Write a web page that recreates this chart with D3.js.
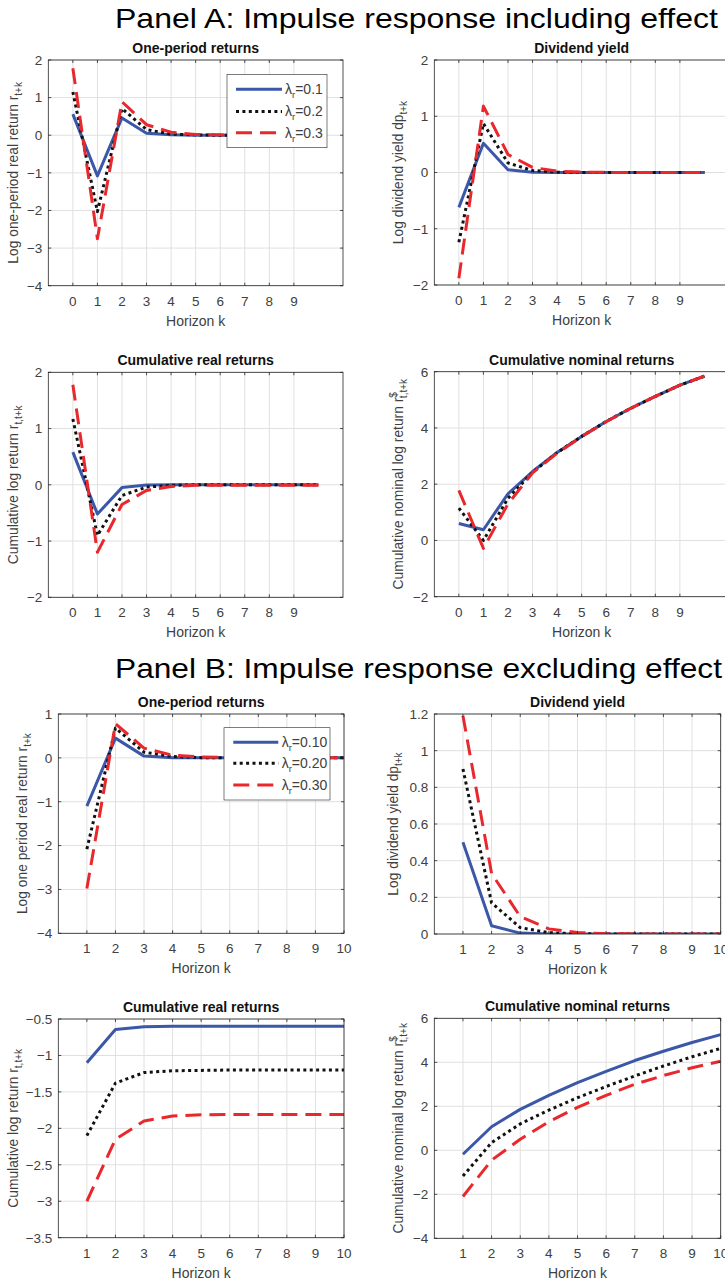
<!DOCTYPE html>
<html>
<head>
<meta charset="utf-8">
<script src="https://cdn.jsdelivr.net/npm/d3@7"></script>
<style>
  body { margin: 0; background: #fff; }
  svg { display: block; font-family: "Liberation Sans", Arial, Helvetica, sans-serif; }
</style>
</head>
<body>
<div id="chart"></div>
<script>
// horizons and tick labels
var horizonA = [0, 1, 2, 3, 4, 5, 6, 7, 8, 9, 10];
var horizonB = [1, 2, 3, 4, 5, 6, 7, 8, 9, 10];
var xTicksA = [0, 1, 2, 3, 4, 5, 6, 7, 8, 9];
var xTicksB = [1, 2, 3, 4, 5, 6, 7, 8, 9, 10];
var lambdasA = ["0.1", "0.2", "0.3"];
var lambdasB = ["0.10", "0.20", "0.30"];

// Panel A: including effect
var oneA_1 = [0.56, -1.08, 0.46, 0.05, 0.01, 0, 0, 0, 0, 0, 0];
var oneA_2 = [1.15, -2.03, 0.71, 0.15, 0.03, 0.01, 0, 0, 0, 0, 0];
var oneA_3 = [1.78, -2.75, 0.89, 0.28, 0.08, 0.02, 0.01, 0, 0, 0, 0];

var dpA_1 = [-0.62, 0.52, 0.05, 0.005, 0, 0, 0, 0, 0, 0, 0];
var dpA_2 = [-1.24, 0.87, 0.17, 0.035, 0.007, 0.001, 0, 0, 0, 0, 0];
var dpA_3 = [-1.88, 1.18, 0.32, 0.09, 0.025, 0.007, 0.002, 0, 0, 0, 0];

var cumA_1 = [0.58, -0.52, -0.05, -0.005, 0, 0, 0, 0, 0, 0, 0];
var cumA_2 = [1.17, -0.9, -0.19, -0.04, -0.01, 0, 0, 0, 0, 0, 0];
var cumA_3 = [1.78, -1.2, -0.35, -0.1, -0.03, -0.01, -0.01, -0.01, -0.01, -0.01, -0.01];

var nomA_1 = [0.6, 0.38, 1.66, 2.45, 3.13, 3.7, 4.23, 4.7, 5.12, 5.52, 5.84];
var nomA_2 = [1.15, 0.0, 1.5, 2.42, 3.12, 3.7, 4.23, 4.7, 5.12, 5.52, 5.84];
var nomA_3 = [1.78, -0.28, 1.3, 2.4, 3.1, 3.69, 4.22, 4.7, 5.12, 5.52, 5.84];

// Panel B: excluding effect
var oneB_1 = [-1.1, 0.45, 0.04, 0.005, 0, 0, 0, 0, 0, 0];
var oneB_2 = [-2.08, 0.68, 0.13, 0.03, 0.005, 0, 0, 0, 0, 0];
var oneB_3 = [-2.98, 0.78, 0.22, 0.06, 0.02, 0.005, 0, 0, 0, 0];

var dpB_1 = [0.5, 0.045, 0.005, 0.0005, 0, 0, 0, 0, 0, 0];
var dpB_2 = [0.9, 0.17, 0.035, 0.007, 0.0015, 0, 0, 0, 0, 0];
var dpB_3 = [1.19, 0.33, 0.095, 0.028, 0.008, 0.002, 0.0007, 0, 0, 0];

var cumB_1 = [-1.1, -0.645, -0.605, -0.6, -0.6, -0.6, -0.6, -0.6, -0.6, -0.6];
var cumB_2 = [-2.1, -1.38, -1.235, -1.21, -1.205, -1.2, -1.2, -1.2, -1.2, -1.2];
var cumB_3 = [-3.0, -2.15, -1.9, -1.83, -1.815, -1.81, -1.81, -1.81, -1.81, -1.81];

var nomB_1 = [-0.18, 1.07, 1.86, 2.5, 3.08, 3.59, 4.08, 4.5, 4.9, 5.26];
var nomB_2 = [-1.17, 0.35, 1.2, 1.83, 2.39, 2.9, 3.38, 3.83, 4.25, 4.63];
var nomB_3 = [-2.1, -0.45, 0.5, 1.3, 1.95, 2.5, 3.0, 3.4, 3.75, 4.05];

var styles = [
    { color: "#3b57a8", dash: null },
    { color: "#111111", dash: "3,3.4" },
    { color: "#e8282d", dash: "16,8" }
];
var axisColor = "#262626";
var labelColor = "#404040";
var gridColor = "#e0e0e0";

var W = 725, H = 1281;
var svg = d3.select("#chart").append("svg")
    .attr("width", W)
    .attr("height", H);
svg.append("rect").attr("width", W).attr("height", H).attr("fill", "#fff");

var clipId = 0;

function drawPanel(o) {
    var x = d3.scaleLinear().domain(o.xDomain).range([o.left, o.right]);
    var y = d3.scaleLinear().domain(o.yDomain).range([o.bottom, o.top]);
    var g = svg.append("g");
    var cx = (o.left + o.right) / 2;
    var cy = (o.top + o.bottom) / 2;

    // grid
    g.selectAll(".gx").data(o.xTicks).enter().append("line")
        .attr("x1", d => x(d)).attr("x2", d => x(d))
        .attr("y1", o.top).attr("y2", o.bottom)
        .attr("stroke", gridColor).attr("stroke-width", 1);
    g.selectAll(".gy").data(o.yTicks).enter().append("line")
        .attr("x1", o.left).attr("x2", o.right)
        .attr("y1", d => y(d)).attr("y2", d => y(d))
        .attr("stroke", gridColor).attr("stroke-width", 1);

    // lines
    clipId++;
    svg.append("clipPath").attr("id", "clip" + clipId)
        .append("rect")
        .attr("x", o.left).attr("y", o.top)
        .attr("width", o.right - o.left).attr("height", o.bottom - o.top);
    var line = d3.line().x(d => x(d[0])).y(d => y(d[1]));
    var lg = g.append("g").attr("clip-path", "url(#clip" + clipId + ")");
    o.series.forEach(function (vals, i) {
        var pts = o.horizon.map((h, j) => [h, vals[j]]);
        lg.append("path")
            .attr("d", line(pts))
            .attr("fill", "none")
            .attr("stroke", styles[i].color)
            .attr("stroke-width", 3)
            .attr("stroke-linejoin", "round")
            .attr("stroke-dasharray", styles[i].dash);
    });

    // box + ticks
    g.append("rect")
        .attr("x", o.left).attr("y", o.top)
        .attr("width", o.right - o.left).attr("height", o.bottom - o.top)
        .attr("fill", "none").attr("stroke", axisColor).attr("stroke-width", 0.8);
    var tl = 3;
    o.xTicks.forEach(function (t) {
        g.append("line").attr("x1", x(t)).attr("x2", x(t)).attr("y1", o.bottom).attr("y2", o.bottom - tl)
            .attr("stroke", axisColor).attr("stroke-width", 0.8);
        g.append("line").attr("x1", x(t)).attr("x2", x(t)).attr("y1", o.top).attr("y2", o.top + tl)
            .attr("stroke", axisColor).attr("stroke-width", 0.8);
    });
    o.yTicks.forEach(function (t) {
        g.append("line").attr("x1", o.left).attr("x2", o.left + tl).attr("y1", y(t)).attr("y2", y(t))
            .attr("stroke", axisColor).attr("stroke-width", 0.8);
        g.append("line").attr("x1", o.right).attr("x2", o.right - tl).attr("y1", y(t)).attr("y2", y(t))
            .attr("stroke", axisColor).attr("stroke-width", 0.8);
    });

    // tick labels
    g.selectAll(".xt").data(o.xTicks).enter().append("text")
        .attr("x", d => x(d)).attr("y", o.bottom + 20)
        .attr("text-anchor", "middle")
        .attr("font-size", 13.5).attr("fill", labelColor)
        .text(d => d);
    g.selectAll(".yt").data(o.yTicks).enter().append("text")
        .attr("x", o.left - 6).attr("y", d => y(d))
        .attr("dy", "0.36em")
        .attr("text-anchor", "end")
        .attr("font-size", 13.5).attr("fill", labelColor)
        .text(d => d3.format("~g")(+d.toFixed(2)));

    // titles
    g.append("text")
        .attr("x", cx).attr("y", o.top - 7)
        .attr("text-anchor", "middle")
        .attr("font-size", 14).attr("font-weight", "bold").attr("fill", "#111")
        .text(o.title);
    g.append("text")
        .attr("x", cx).attr("y", o.bottom + 40)
        .attr("text-anchor", "middle")
        .attr("font-size", 14).attr("fill", labelColor)
        .text("Horizon k");

    var yl = g.append("text")
        .attr("transform", "translate(" + o.ylabX + "," + cy + ") rotate(-90)")
        .attr("text-anchor", "middle")
        .attr("font-size", 13.8).attr("fill", labelColor);
    yl.append("tspan").text(o.ylab);
    if (o.ysup) {
        yl.append("tspan").attr("font-size", 10).attr("dy", -6).text(o.ysup);
        yl.append("tspan").attr("font-size", 10).attr("dx", -6).attr("dy", 10).text(o.ysub);
    } else {
        yl.append("tspan").attr("font-size", 10).attr("dy", 4).text(o.ysub);
    }

    if (o.legend) drawLegend(o.legend);
}

function drawLegend(L) {
    var g = svg.append("g");
    g.append("rect")
        .attr("x", L.x).attr("y", L.y).attr("width", L.w).attr("height", L.h)
        .attr("fill", "#fff").attr("stroke", axisColor).attr("stroke-width", 0.6);
    L.labels.forEach(function (lab, i) {
        var yy = L.rows[i];
        g.append("line")
            .attr("x1", L.s0).attr("x2", L.s1).attr("y1", yy).attr("y2", yy)
            .attr("stroke", styles[i].color).attr("stroke-width", 3)
            .attr("stroke-dasharray", styles[i].dash);
        var t = g.append("text")
            .attr("x", L.tx).attr("y", yy).attr("dy", "0.35em")
            .attr("font-size", 14).attr("fill", labelColor);
        t.append("tspan").text("\u03bb");
        t.append("tspan").attr("font-size", 9.5).attr("dy", 4).text("r");
        t.append("tspan").attr("dy", -4).text("=" + lab);
    });
}

// panel headings
svg.append("text").attr("x", 115).attr("y", 28)
    .attr("font-size", 28).attr("fill", "#000")
    .attr("textLength", 603).attr("lengthAdjust", "spacingAndGlyphs")
    .text("Panel A: Impulse response including effect");
svg.append("text").attr("x", 115).attr("y", 678)
    .attr("font-size", 28).attr("fill", "#000")
    .attr("textLength", 607).attr("lengthAdjust", "spacingAndGlyphs")
    .text("Panel B: Impulse response excluding effect");

// Panel A
drawPanel({
    left: 48.3, right: 343, top: 60, bottom: 285.7,
    xDomain: [-1, 11], yDomain: [-4, 2], xTicks: xTicksA, yTicks: d3.range(-4, 2.01, 1),
    horizon: horizonA, series: [oneA_1, oneA_2, oneA_3],
    title: "One-period returns", ylab: "Log one-period real return r", ysub: "t+k", ylabX: 18,
    legend: { x: 227, y: 74.3, w: 100, h: 73.4, rows: [89.3, 111.5, 132.7], s0: 236, s1: 282, tx: 285, labels: lambdasA }
});
drawPanel({
    left: 434.3, right: 729, top: 60, bottom: 285,
    xDomain: [-1, 11], yDomain: [-2, 2], xTicks: xTicksA, yTicks: d3.range(-2, 2.01, 1),
    horizon: horizonA, series: [dpA_1, dpA_2, dpA_3],
    title: "Dividend yield", ylab: "Log dividend yield dp", ysub: "t+k", ylabX: 403
});
drawPanel({
    left: 48.3, right: 343, top: 372.3, bottom: 597.3,
    xDomain: [-1, 11], yDomain: [-2, 2], xTicks: xTicksA, yTicks: d3.range(-2, 2.01, 1),
    horizon: horizonA, series: [cumA_1, cumA_2, cumA_3],
    title: "Cumulative real returns", ylab: "Cumulative log return r", ysub: "t,t+k", ylabX: 18
});
drawPanel({
    left: 434.3, right: 729, top: 371.7, bottom: 596.7,
    xDomain: [-1, 11], yDomain: [-2, 6], xTicks: xTicksA, yTicks: d3.range(-2, 6.01, 2),
    horizon: horizonA, series: [nomA_1, nomA_2, nomA_3],
    title: "Cumulative nominal returns", ylab: "Cumulative nominal log return r", ysup: "$", ysub: "t,t+k", ylabX: 403
});

// Panel B
drawPanel({
    left: 58.3, right: 344, top: 714, bottom: 933.3,
    xDomain: [0, 10], yDomain: [-4, 1], xTicks: xTicksB, yTicks: d3.range(-4, 1.01, 1),
    horizon: horizonB, series: [oneB_1, oneB_2, oneB_3],
    title: "One-period returns", ylab: "Log one period real return r", ysub: "t+k", ylabX: 27,
    legend: { x: 224, y: 727.7, w: 106, h: 72.3, rows: [742.3, 763.3, 785], s0: 233.3, s1: 278.3, tx: 281.7, labels: lambdasB }
});
drawPanel({
    left: 434.3, right: 720.7, top: 714, bottom: 934,
    xDomain: [0, 10], yDomain: [0, 1.2], xTicks: xTicksB, yTicks: d3.range(0, 1.21, 0.2),
    horizon: horizonB, series: [dpB_1, dpB_2, dpB_3],
    title: "Dividend yield", ylab: "Log dividend yield dp", ysub: "t+k", ylabX: 398
});
drawPanel({
    left: 58.3, right: 344, top: 1019, bottom: 1237.7,
    xDomain: [0, 10], yDomain: [-3.5, -0.5], xTicks: xTicksB, yTicks: d3.range(-3.5, -0.49, 0.5),
    horizon: horizonB, series: [cumB_1, cumB_2, cumB_3],
    title: "Cumulative real returns", ylab: "Cumulative log return r", ysub: "t,t+k", ylabX: 18
});
drawPanel({
    left: 434.3, right: 720.7, top: 1018.3, bottom: 1238.3,
    xDomain: [0, 10], yDomain: [-4, 6], xTicks: xTicksB, yTicks: d3.range(-4, 6.01, 2),
    horizon: horizonB, series: [nomB_1, nomB_2, nomB_3],
    title: "Cumulative nominal returns", ylab: "Cumulative nominal log return r", ysup: "$", ysub: "t,t+k", ylabX: 403
});
</script>
</body>
</html>
